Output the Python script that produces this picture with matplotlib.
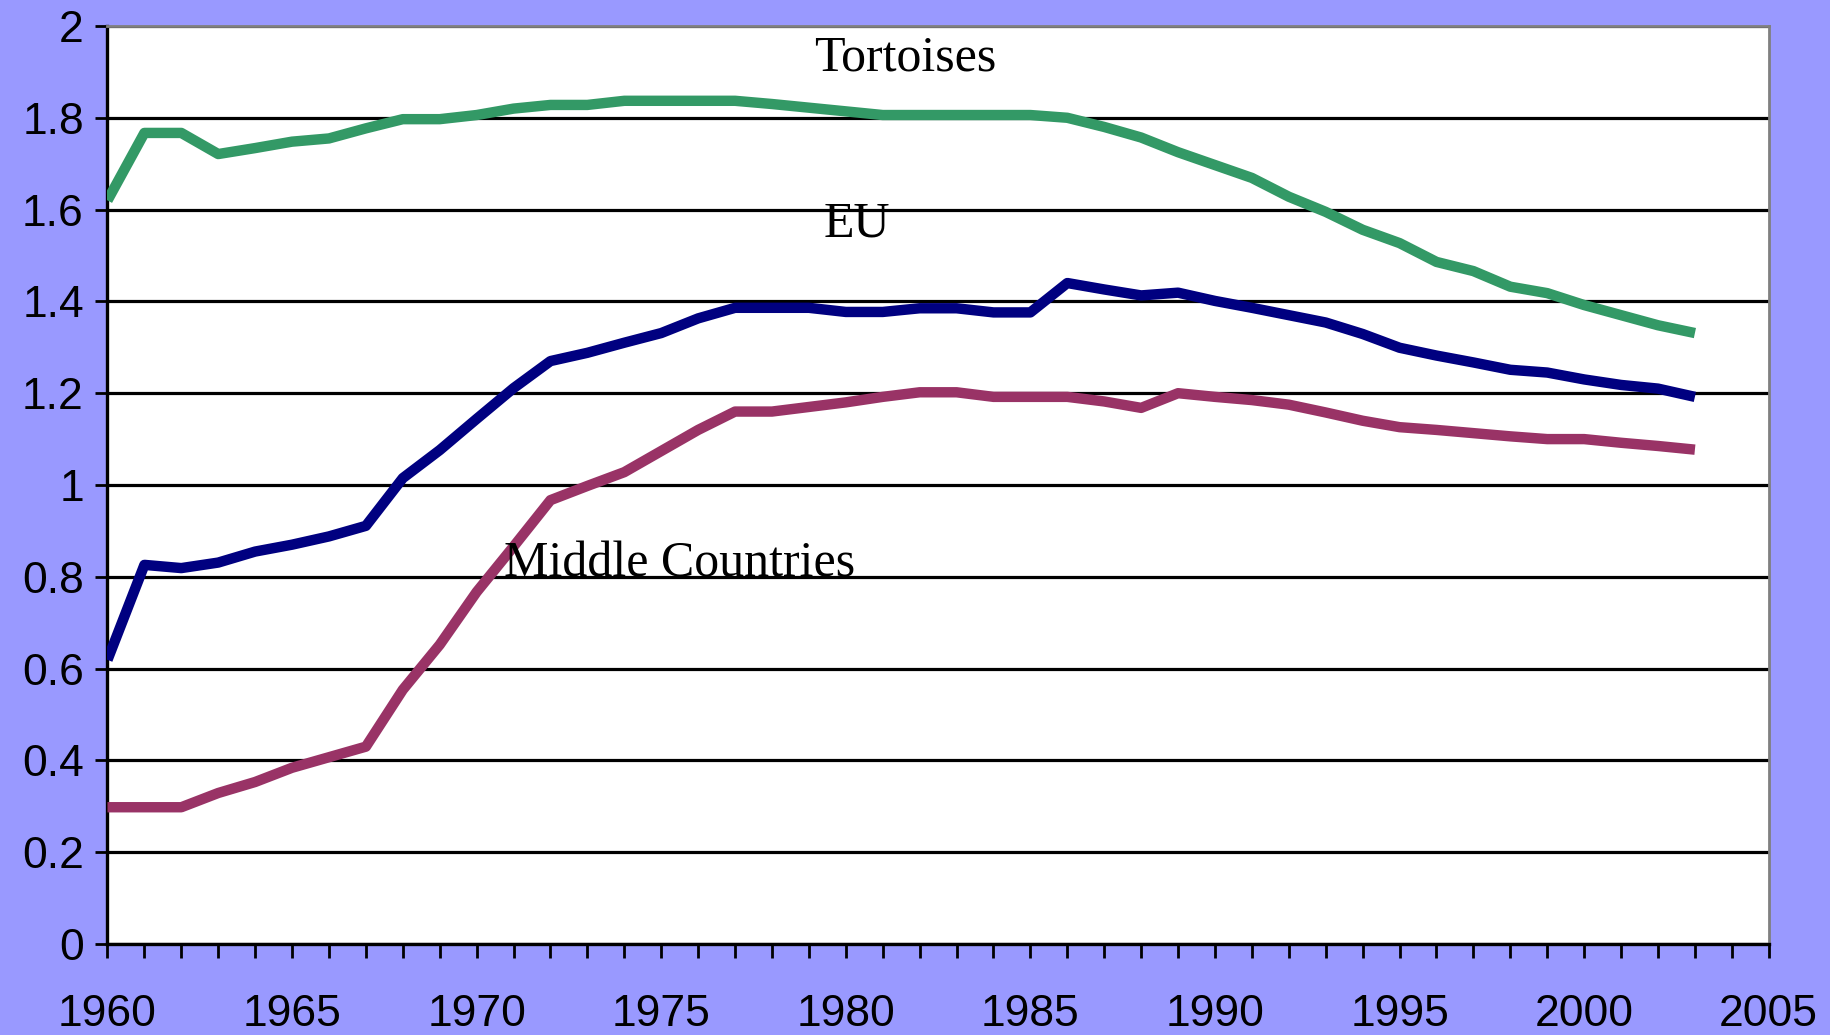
import matplotlib
matplotlib.use("Agg")
import matplotlib.pyplot as plt
from matplotlib.ticker import MultipleLocator, FormatStrFormatter
import numpy as np

# data
years = list(range(1960, 2004))

tortoises = [1.62, 1.767, 1.767, 1.721, 1.734, 1.748, 1.755, 1.777, 1.797, 1.797,
             1.806, 1.820, 1.828, 1.828, 1.837, 1.837, 1.837, 1.837, 1.830, 1.822,
             1.814, 1.806, 1.806, 1.806, 1.806, 1.806, 1.800, 1.780, 1.757, 1.725,
             1.697, 1.669, 1.628, 1.595, 1.556, 1.527, 1.486, 1.466, 1.432, 1.418,
             1.392, 1.370, 1.348, 1.331]

eu = [0.619, 0.826, 0.819, 0.831, 0.855, 0.870, 0.888, 0.911, 1.015, 1.076,
      1.144, 1.211, 1.270, 1.288, 1.310, 1.331, 1.363, 1.386, 1.386, 1.386,
      1.377, 1.377, 1.385, 1.385, 1.376, 1.376, 1.440, 1.426, 1.413, 1.419,
      1.401, 1.386, 1.370, 1.354, 1.329, 1.299, 1.282, 1.267, 1.251, 1.245,
      1.230, 1.218, 1.210, 1.192]

middle = [0.298, 0.298, 0.298, 0.329, 0.353, 0.384, 0.407, 0.430, 0.554, 0.652,
          0.767, 0.866, 0.967, 0.998, 1.028, 1.074, 1.120, 1.160, 1.160, 1.170,
          1.180, 1.192, 1.202, 1.202, 1.192, 1.192, 1.192, 1.182, 1.168, 1.200,
          1.192, 1.185, 1.175, 1.158, 1.140, 1.126, 1.120, 1.113, 1.106, 1.100,
          1.100, 1.092, 1.085, 1.077]

series_names = ["Tortoises", "EU", "Middle Countries"]
series_colors = ["#339966", "#000080", "#993366"]
label_pos = [(1981.6, 1.93), (1980.3, 1.568), (1975.5, 0.828)]

fig = plt.figure(figsize=(18.31, 10.35), dpi=100, facecolor="#9999ff")
ax = fig.add_axes([0.0587, 0.0879, 0.9073, 0.887])
ax.set_facecolor("white")

for vals, col in zip([tortoises, eu, middle], series_colors):
    ax.plot(years, vals, color=col, lw=7.5, solid_capstyle="butt", zorder=3)

for name, (lx, ly) in zip(series_names, label_pos):
    ax.text(lx, ly, name, ha="center", va="center", fontsize=36,
            family="Liberation Serif", color="black", zorder=4)

ax.set_xlim(1960, 2005)
ax.set_ylim(0, 2)
ax.xaxis.set_major_locator(MultipleLocator(5))
ax.xaxis.set_minor_locator(MultipleLocator(1))
ax.yaxis.set_major_locator(MultipleLocator(0.2))
ax.yaxis.set_major_formatter(FormatStrFormatter("%g"))

ax.set_axisbelow(True)
ax.yaxis.grid(True, color="black", lw=2.3)

for lab in ax.get_xticklabels() + ax.get_yticklabels():
    lab.set_family("Liberation Sans")
ax.tick_params(axis="x", which="both", direction="out", length=10, width=2,
               labelsize=32, pad=26)
ax.tick_params(axis="y", which="major", direction="out", length=9, width=2,
               labelsize=32, pad=8)

ax.spines["left"].set_linewidth(2.4)
ax.spines["bottom"].set_linewidth(2.4)
ax.spines["top"].set_color("#808080")
ax.spines["right"].set_color("#808080")
ax.spines["top"].set_linewidth(2)
ax.spines["right"].set_linewidth(2)

fig.savefig("out.png", dpi=100, facecolor=fig.get_facecolor())
